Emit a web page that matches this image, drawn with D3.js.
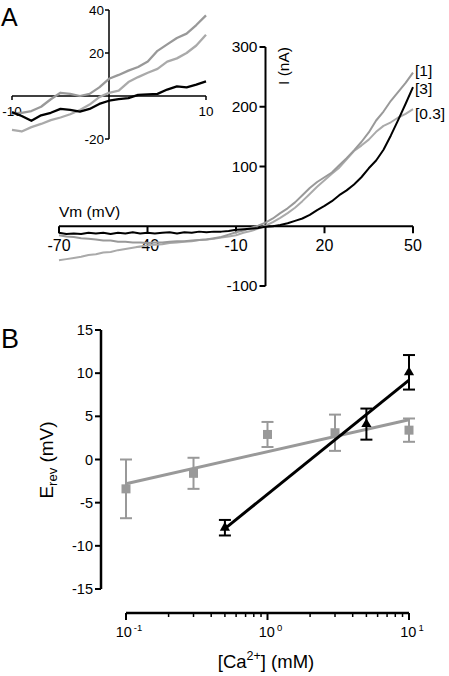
<!DOCTYPE html>
<html><head><meta charset="utf-8">
<script src="https://cdn.jsdelivr.net/npm/d3@7/dist/d3.min.js"></script>
<style>body{margin:0;background:#fff}svg{display:block;font-family:"Liberation Sans",Arial,Helvetica,sans-serif}</style>
</head><body><svg id="c" width="449" height="676"></svg>
<script>
// ---------- Panel A: main I-V traces ----------
const mainV = d3.range(-70, 50.01, 2.5);
const trace3   = [-11,-13,-12,-13,-11,-12,-11,-13,-11,-12,-10,-12,-11,-12,-11,-10,-12,-10,-11,-9,-10,-9,-9,-8,-6,-5,-4,-3,-1,0,2,5,9,13,19,27,34,42,52,60,70,82,97,110,128,152,178,205,233];
const trace1   = [-15,-17,-18,-20,-21,-22,-24,-24,-26,-26,-27,-27,-28,-27,-27,-26,-25,-25,-24,-23,-22,-20,-18,-14,-10,-7,-3,1,6,13,22,30,40,52,64,74,82,90,102,114,127,141,157,177,192,210,225,240,257];
const trace03  = [-57,-55,-53,-51,-48,-47,-44,-43,-40,-38,-36,-34,-32,-31,-30,-28,-27,-26,-25,-23,-22,-21,-19,-17,-15,-11,-8,-4,1,7,14,22,31,42,54,66,77,88,98,112,126,135,145,158,168,174,182,188,196];
const mainXTicks = [-70,-40,-10,20,50];
const mainYTicks = [-100,100,200,300];
const traceLabels = ["[1]","[3]","[0.3]"];

// ---------- Panel A: inset (-10..10 mV) ----------
const insetV = d3.range(-10, 10.01, 1);
const inset1  = [-8.2,-7.8,-7,-5,-1.5,1.5,1,0,1,4,8,9.8,11.8,13.5,16,21,24,27,29,33,37.5];
const inset03 = [-15.8,-16.5,-14.5,-13,-11.2,-10,-8.5,-6.5,-4,-0.5,1.5,2.5,6.5,8.8,10.8,12.6,16,17.5,20,23.5,28.5];
const inset3  = [-7.5,-9.3,-11.5,-9,-7.8,-6,-6.5,-7.3,-6,-3.7,-2.2,-1.5,-1,0.5,0.8,1,3,4.5,4,5.3,6.8];
const insetXTicks = [-10,10];
const insetYTicks = [-20,20,40];

// ---------- Panel B: Erev vs [Ca2+] ----------
const caGray = [0.1,0.3,1,3,10];
const erevGray = [-3.4,-1.6,2.9,3.1,3.4];
const errGray = [3.4,1.8,1.45,2.1,1.35];
const caBlack = [0.5,5,10];
const erevBlack = [-7.9,4.1,10.1];
const errBlack = [0.9,1.8,2.0];
const fitGrayX = [0.1,10], fitGrayY = [-2.8,4.6];
const fitBlackX = [0.5,10], fitBlackY = [-8.0,9.2];
const bYTicks = [-15,-10,-5,0,5,10,15];
const bXDecades = [0.1,1,10];
const bXExp = ["-1","0","1"];

const GRAY1 = "#999999", GRAY2 = "#aaaaaa", BLACK = "#000";
const svg = d3.select("#c");

// ===== Panel A main =====
const xA = d3.scaleLinear().domain([-70,50]).range([59,413]);
const yA = d3.scaleLinear().domain([-100,300]).range([286,47]);
const gA = svg.append("g");
gA.append("line").attr("x1",xA(-70)).attr("x2",xA(50)).attr("y1",yA(0)).attr("y2",yA(0)).attr("stroke","#000").attr("stroke-width",2);
gA.append("line").attr("x1",xA(0)).attr("x2",xA(0)).attr("y1",yA(300)).attr("y2",yA(-100)).attr("stroke","#000").attr("stroke-width",2);
mainXTicks.forEach(t=>{
  gA.append("line").attr("x1",xA(t)).attr("x2",xA(t)).attr("y1",yA(0)).attr("y2",yA(0)+7).attr("stroke","#000").attr("stroke-width",2);
  gA.append("text").attr("x",xA(t)).attr("y",251).attr("text-anchor","middle").attr("font-size",16).text(String(t));
});
mainYTicks.forEach(t=>{
  gA.append("line").attr("x1",xA(0)-6).attr("x2",xA(0)).attr("y1",yA(t)).attr("y2",yA(t)).attr("stroke","#000").attr("stroke-width",2);
  gA.append("text").attr("x",xA(0)-8).attr("y",yA(t)+5).attr("text-anchor","end").attr("font-size",15.5).text(String(t));
});
gA.append("text").attr("x",59).attr("y",217).attr("font-size",15.5).text("Vm (mV)");
gA.append("text").attr("transform",`translate(289,47) rotate(-90)`).attr("text-anchor","end").attr("font-size",15.5).text("I (nA)");
const lineA = d3.line().x(d=>xA(d[0])).y(d=>yA(d[1]));
[[trace03,GRAY2],[trace1,GRAY1],[trace3,BLACK]].forEach(([arr,col])=>{
  gA.append("path").attr("d",lineA(mainV.map((v,i)=>[v,arr[i]]))).attr("fill","none").attr("stroke",col).attr("stroke-width",2).attr("stroke-linejoin","round");
});
[[traceLabels[0],76],[traceLabels[1],94],[traceLabels[2],119]].forEach(([t,y])=>{
  gA.append("text").attr("x",415).attr("y",y).attr("font-size",15.5).text(t);
});
svg.append("text").attr("x",1).attr("y",26).attr("font-size",25).text("A");

// ===== Inset =====
const xI = d3.scaleLinear().domain([-10,10]).range([12,206]);
const yI = d3.scaleLinear().domain([-20,40]).range([139,10]);
const gI = svg.append("g");
gI.append("line").attr("x1",xI(-10)).attr("x2",xI(10)).attr("y1",yI(0)).attr("y2",yI(0)).attr("stroke","#000").attr("stroke-width",1.5);
gI.append("line").attr("x1",xI(0)).attr("x2",xI(0)).attr("y1",yI(40)).attr("y2",yI(-20)).attr("stroke","#000").attr("stroke-width",1.5);
insetXTicks.forEach(t=>{
  gI.append("line").attr("x1",xI(t)).attr("x2",xI(t)).attr("y1",yI(0)).attr("y2",yI(0)+4).attr("stroke","#000").attr("stroke-width",1.5);
  gI.append("text").attr("x",xI(t)).attr("y",116).attr("text-anchor","middle").attr("font-size",13.5).text(String(t));
});
insetYTicks.forEach(t=>{
  gI.append("line").attr("x1",xI(0)-4).attr("x2",xI(0)).attr("y1",yI(t)).attr("y2",yI(t)).attr("stroke","#000").attr("stroke-width",1.5);
  gI.append("text").attr("x",xI(0)-5).attr("y",yI(t)+5).attr("text-anchor","end").attr("font-size",13.5).text(String(t));
});
const lineI = d3.line().x(d=>xI(d[0])).y(d=>yI(d[1]));
[[inset03,GRAY2],[inset1,GRAY1],[inset3,BLACK]].forEach(([arr,col])=>{
  gI.append("path").attr("d",lineI(insetV.map((v,i)=>[v,arr[i]]))).attr("fill","none").attr("stroke",col).attr("stroke-width",2.3).attr("stroke-linejoin","round");
});

// ===== Panel B =====
const xB = d3.scaleLog().domain([0.1,10]).range([126,409]);
const yB = d3.scaleLinear().domain([-15,15]).range([589,330]);
const gB = svg.append("g");
gB.append("line").attr("x1",101).attr("x2",101).attr("y1",yB(15)).attr("y2",yB(-15)).attr("stroke","#000").attr("stroke-width",2.5);
bYTicks.forEach(t=>{
  gB.append("line").attr("x1",95).attr("x2",101).attr("y1",yB(t)).attr("y2",yB(t)).attr("stroke","#000").attr("stroke-width",2);
  gB.append("text").attr("x",93).attr("y",yB(t)+5).attr("text-anchor","end").attr("font-size",14.5).text(String(t));
});
gB.append("line").attr("x1",xB(0.1)).attr("x2",xB(10)).attr("y1",613).attr("y2",613).attr("stroke","#000").attr("stroke-width",2.5);
const minorTicks = [];
[0.1,1].forEach(d=>{ for(let k=2;k<=9;k++) minorTicks.push(d*k); });
minorTicks.forEach(t=>{
  gB.append("line").attr("x1",xB(t)).attr("x2",xB(t)).attr("y1",613).attr("y2",617).attr("stroke","#000").attr("stroke-width",1.5);
});
bXDecades.forEach((t,i)=>{
  gB.append("line").attr("x1",xB(t)).attr("x2",xB(t)).attr("y1",613).attr("y2",620).attr("stroke","#000").attr("stroke-width",2);
  const tx = gB.append("text").attr("x",xB(t)+3).attr("y",637).attr("text-anchor","middle").attr("font-size",14.5);
  tx.append("tspan").text("10");
  tx.append("tspan").attr("dy",-6).attr("font-size",9.5).attr("dx",2).text(bXExp[i]);
});
const xl = gB.append("text").attr("x",266).attr("y",668).attr("text-anchor","middle").attr("font-size",18.5);
xl.append("tspan").text("[Ca");
xl.append("tspan").attr("dy",-8).attr("font-size",12.5).text("2+");
xl.append("tspan").attr("dy",8).text("] (mM)");
const yl = gB.append("text").attr("transform","translate(53,460) rotate(-90)").attr("text-anchor","middle").attr("font-size",19);
yl.append("tspan").text("E");
yl.append("tspan").attr("dy",4).attr("font-size",13).text("rev");
yl.append("tspan").attr("dy",-4).text(" (mV)");

// fit lines
gB.append("line").attr("x1",xB(fitGrayX[0])).attr("x2",xB(fitGrayX[1])).attr("y1",yB(fitGrayY[0])).attr("y2",yB(fitGrayY[1])).attr("stroke",GRAY1).attr("stroke-width",3);
caGray.forEach((c,i)=>{
  const x = xB(c), y0 = yB(erevGray[i]-errGray[i]), y1 = yB(erevGray[i]+errGray[i]);
  gB.append("line").attr("x1",x).attr("x2",x).attr("y1",y0).attr("y2",y1).attr("stroke",GRAY1).attr("stroke-width",2);
  [y0,y1].forEach(yy=>gB.append("line").attr("x1",x-6).attr("x2",x+6).attr("y1",yy).attr("y2",yy).attr("stroke",GRAY1).attr("stroke-width",2));
  gB.append("rect").attr("x",x-4.5).attr("y",yB(erevGray[i])-4.5).attr("width",9).attr("height",9).attr("fill",GRAY1);
});
gB.append("line").attr("x1",xB(fitBlackX[0])).attr("x2",xB(fitBlackX[1])).attr("y1",yB(fitBlackY[0])).attr("y2",yB(fitBlackY[1])).attr("stroke",BLACK).attr("stroke-width",3);
caBlack.forEach((c,i)=>{
  const x = xB(c), y0 = yB(erevBlack[i]-errBlack[i]), y1 = yB(erevBlack[i]+errBlack[i]);
  gB.append("line").attr("x1",x).attr("x2",x).attr("y1",y0).attr("y2",y1).attr("stroke",BLACK).attr("stroke-width",2);
  [y0,y1].forEach(yy=>gB.append("line").attr("x1",x-6).attr("x2",x+6).attr("y1",yy).attr("y2",yy).attr("stroke",BLACK).attr("stroke-width",2));
  gB.append("path").attr("d",d3.symbol().type(d3.symbolTriangle).size(45)()).attr("transform",`translate(${x},${yB(erevBlack[i])})`).attr("fill",BLACK);
});
svg.append("text").attr("x",1).attr("y",348).attr("font-size",27).text("B");
</script></body></html>
